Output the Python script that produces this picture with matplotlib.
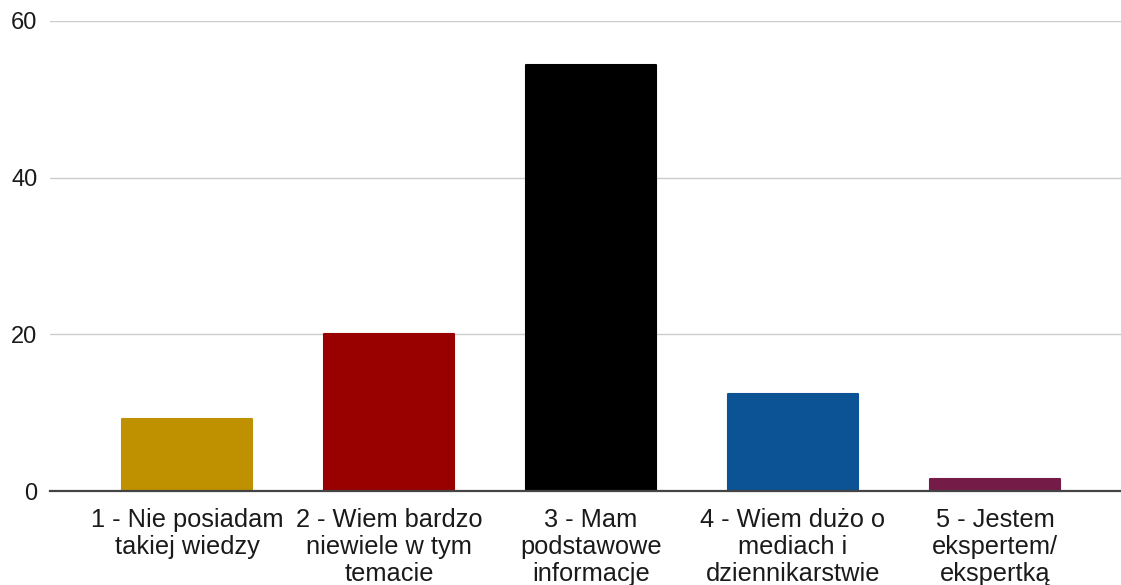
import matplotlib
matplotlib.use("Agg")
import matplotlib.pyplot as plt

categories = [
    "1 - Nie posiadam\ntakiej wiedzy",
    "2 - Wiem bardzo\nniewiele w tym\ntemacie",
    "3 - Mam\npodstawowe\ninformacje",
    "4 - Wiem dużo o\nmediach i\ndziennikarstwie",
    "5 - Jestem\nekspertem/\nekspertką",
]
values = [9.2, 20.0, 54.4, 12.4, 1.6]
colors = ["#bf9000", "#990000", "#000000", "#0b5394", "#741b47"]
y_ticks = [0, 20, 40, 60]

plt.rcParams["font.family"] = ["Liberation Sans", "DejaVu Sans"]

fig = plt.figure(figsize=(11.21, 5.85), dpi=100)
ax = fig.add_axes([0.0446, 0.1602, 0.9554, 0.8044])

x = list(range(len(categories)))
ax.bar(x, values, width=0.64, color=colors, edgecolor=colors,
       linewidth=1.5, joinstyle="round", zorder=3)

ax.set_xlim(-0.678, 4.624)
ax.set_ylim(0, 60)
ax.set_yticks(y_ticks)
ax.set_yticklabels([str(t) for t in y_ticks], fontsize=17, color="#1a1a1a")
ax.set_xticks(x)
ax.set_xticklabels(categories, fontsize=18.3, color="#1a1a1a", linespacing=1.15,
                   va="top")

ax.tick_params(axis="y", length=0, pad=9)
ax.tick_params(axis="x", length=0, pad=12)

ax.grid(axis="y", color="#cccccc", linewidth=1.0, zorder=0)
ax.set_axisbelow(True)
for side in ("left", "right", "top"):
    ax.spines[side].set_visible(False)
ax.spines["bottom"].set_color("#444444")
ax.spines["bottom"].set_linewidth(1.6)
ax.spines["bottom"].set_zorder(4)

fig.savefig("out.png", dpi=100)
